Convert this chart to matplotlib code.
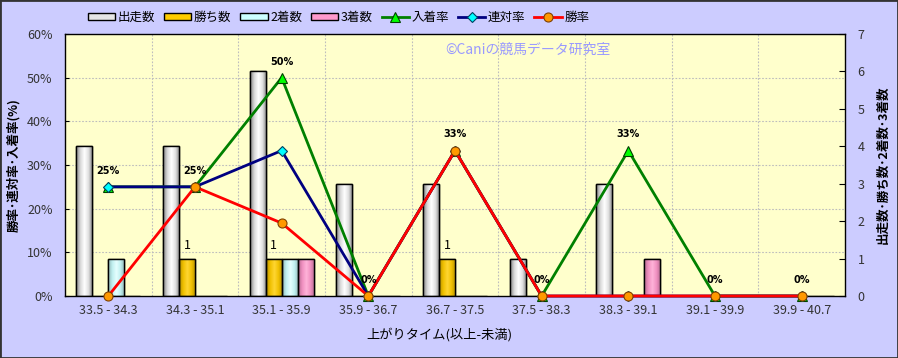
import numpy as np
import matplotlib
matplotlib.use("Agg")
import matplotlib.pyplot as plt
from matplotlib.colors import LinearSegmentedColormap
from matplotlib.patches import Rectangle

plt.rcParams['font.family'] = ['Noto Sans CJK JP', 'DejaVu Sans']

categories = ['33.5 - 34.3', '34.3 - 35.1', '35.1 - 35.9', '35.9 - 36.7', '36.7 - 37.5',
              '37.5 - 38.3', '38.3 - 39.1', '39.1 - 39.9', '39.9 - 40.7']
starts = [4, 4, 6, 3, 3, 1, 3, 0, 0]
wins = [0, 1, 1, 0, 1, 0, 0, 0, 0]
seconds = [1, 0, 1, 0, 0, 0, 0, 0, 0]
thirds = [0, 0, 1, 0, 0, 0, 1, 0, 0]
place_rate = [25, 25, 50, 0, 33.3, 0, 33.3, 0, 0]
quinella_rate = [25, 25, 33.3, 0, 33.3, 0, 0, 0, 0]
win_rate = [0, 25, 16.7, 0, 33.3, 0, 0, 0, 0]

fig = plt.figure(figsize=(8.98, 3.58), dpi=100, facecolor='#CCCCFF')
fig.subplots_adjust(left=65/898, right=845/898, bottom=1-296/358, top=1-34/358)
ax = fig.add_subplot(111)          # counts (bars), right axis
ax2 = ax.twinx()                   # rates (lines), left axis
ax.set_facecolor('#FFFFCC')

x = np.arange(len(categories))
w = 0.185
bar_specs = [
    (starts, '出走数', '#E6E6E6', ['#808080', '#D8D8D8', '#FFFFFF', '#E0E0E0', '#808080']),
    (wins, '勝ち数', '#FFCC00', ['#B38F00', '#F0C000', '#FFD633', '#F0C000', '#B38F00']),
    (seconds, '2着数', '#CCFFFF', ['#8FB3B3', '#C0F0F0', '#E6FFFF', '#C0F0F0', '#8FB3B3']),
    (thirds, '3着数', '#FF99CC', ['#B36B8F', '#F090C0', '#FFB3D9', '#F090C0', '#B36B8F']),
]
grad = np.linspace(0, 1, 64).reshape(1, -1)
for k, (vals, name, col, shades) in enumerate(bar_specs):
    bars = ax.bar(x - 1.5 * w + k * w, vals, w, color=col, edgecolor='black',
                  linewidth=1.0, label=name, zorder=2)
    cmap = LinearSegmentedColormap.from_list(name, shades)
    for b in bars:
        if b.get_height() <= 0:
            continue
        bx, by = b.get_x(), b.get_y()
        im = ax.imshow(grad, cmap=cmap, aspect='auto', zorder=2.5,
                       extent=(bx, bx + b.get_width(), by, by + b.get_height()))
        im.set_clip_path(b)
        edge = Rectangle((bx, by), b.get_width(), b.get_height(), fill=False,
                         edgecolor='black', linewidth=1.0, zorder=2.6)
        ax.add_patch(edge)

for xi, v in zip(x, wins):
    if v > 0:
        ax.annotate(str(v), (xi - 0.5 * w, v), xytext=(0, 5), textcoords='offset points',
                    ha='center', va='bottom', fontsize=9, zorder=5)

ax.set_xlim(-0.5, len(categories) - 0.5)
ax.set_ylim(0, 7)
ax2.set_ylim(0, 60)

# grid lines (drawn behind bars on the count axis)
for p in range(10, 60, 10):
    ax.axhline(p * 7 / 60, color='#BDBDBD', linestyle=(0, (1.5, 1.5)), linewidth=0.8, zorder=1)
for b in np.arange(0.5, len(categories) - 0.5, 1):
    ax.axvline(b, color='#BDBDBD', linestyle=(0, (1.5, 1.5)), linewidth=0.8, zorder=1)

ax2.plot(x, place_rate, color='#008000', linewidth=2, marker='^', markersize=7,
         markerfacecolor='#00FF00', markeredgecolor='#004000', markeredgewidth=0.8,
         label='入着率', zorder=3, clip_on=False)
ax2.plot(x, quinella_rate, color='#000080', linewidth=2, marker='D', markersize=5,
         markerfacecolor='#00FFFF', markeredgecolor='#004060', markeredgewidth=0.8,
         label='連対率', zorder=4, clip_on=False)
ax2.plot(x, win_rate, color='#FF0000', linewidth=2, marker='o', markersize=6.5,
         markerfacecolor='#FF9900', markeredgecolor='#804000', markeredgewidth=0.8,
         label='勝率', zorder=5, clip_on=False)

for xi, v in zip(x, place_rate):
    ax2.annotate(f'{v:.0f}%', (xi, v), xytext=(0, 8), textcoords='offset points',
                 ha='center', va='bottom', fontsize=7, fontweight='bold',
                 family='DejaVu Sans', zorder=6)

ax.set_xticks(x)
ax.set_xticklabels(categories)
ax.tick_params(axis='x', length=0, pad=6, labelsize=9, labelcolor='#333333')
ax.yaxis.tick_right()
ax.yaxis.set_label_position('right')
ax.set_yticks(range(0, 8))
ax.tick_params(axis='y', direction='in', length=4, pad=9, labelsize=9, labelcolor='#333333')
ax2.yaxis.tick_left()
ax2.yaxis.set_label_position('left')
ax2.set_yticks(range(0, 61, 10))
ax2.set_yticklabels([f'{t}%' for t in range(0, 61, 10)])
ax2.tick_params(axis='y', direction='in', length=3, pad=9, labelsize=9, labelcolor='#333333')

ax2.set_ylabel('勝率･連対率･入着率(%)', fontsize=9, fontweight='bold')
ax2.yaxis.set_label_coords(-0.058, 0.5)
ax.set_ylabel('出走数･勝ち数･2着数･3着数', fontsize=9, fontweight='bold', rotation=90)
ax.yaxis.set_label_coords(1.04, 0.5)
ax.set_xlabel('上がりタイム(以上-未満)', fontsize=9.5)
ax.xaxis.set_label_coords(0.48, -0.12)

for sp in ax.spines.values():
    sp.set_color('black')
    sp.set_linewidth(1)
for sp in ax2.spines.values():
    sp.set_visible(False)

ax.text(0.487, 0.939, '©Caniの競馬データ研究室', transform=ax.transAxes, color='#9999FF',
        fontsize=10, va='center', ha='left', zorder=6)

h1, l1 = ax.get_legend_handles_labels()
h2, l2 = ax2.get_legend_handles_labels()
fig.legend(h1 + h2, l1 + l2, loc='center left', bbox_to_anchor=(0.085, 0.952), ncol=7,
           frameon=False, fontsize=9, handlelength=2.2, handleheight=0.5,
           columnspacing=0.7, handletextpad=0.2)

fig.patches.append(Rectangle((0, 0), 1, 1, transform=fig.transFigure, fill=False,
                             edgecolor='#333333', linewidth=2))

fig.savefig('out.png', dpi=100, facecolor=fig.get_facecolor())
